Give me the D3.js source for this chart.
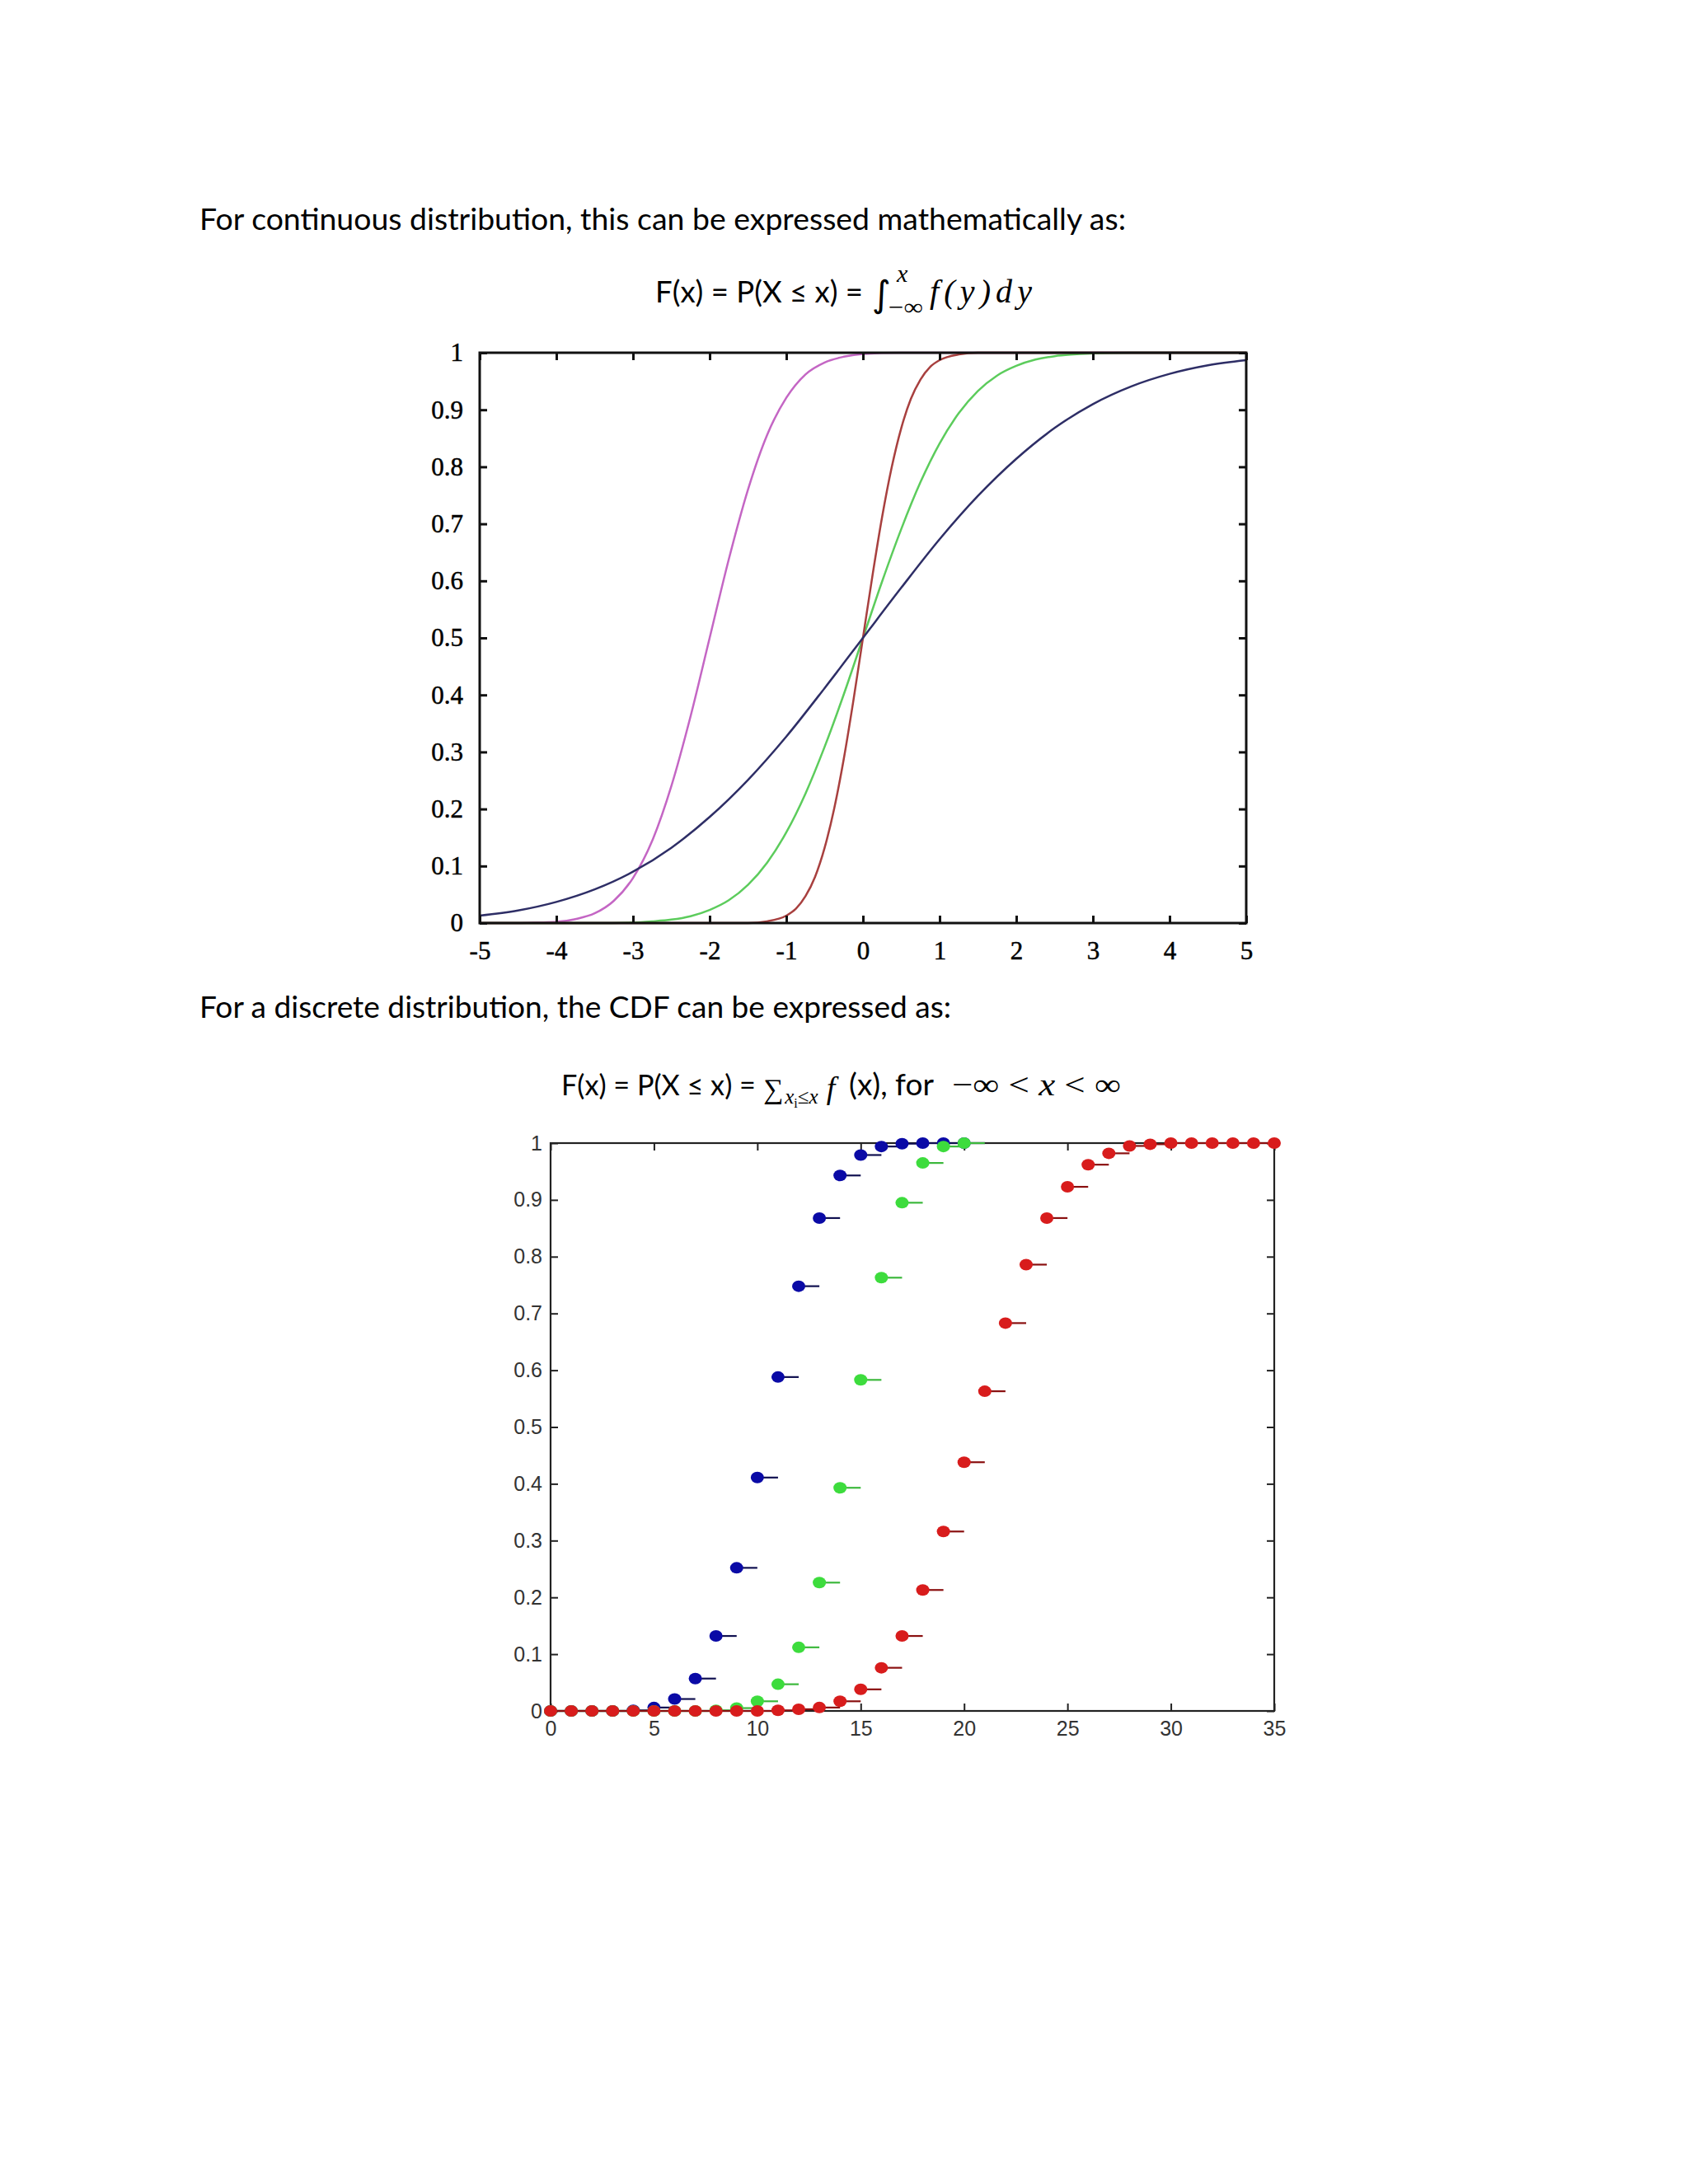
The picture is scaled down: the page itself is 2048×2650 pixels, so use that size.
<!DOCTYPE html>
<html>
<head>
<meta charset="utf-8">
<script src="https://cdn.jsdelivr.net/npm/d3@7"></script>
<style>
  html, body { margin: 0; padding: 0; background: #fff; }
  svg { display: block; }
</style>
</head>
<body>
<script>
// ---------------- DATA ----------------
// Continuous CDF chart
const contTicksX = [-5, -4, -3, -2, -1, 0, 1, 2, 3, 4, 5];
const contTicksY = [0, 0.1, 0.2, 0.3, 0.4, 0.5, 0.6, 0.7, 0.8, 0.9, 1];

const blueX = [-5, -4.5, -4, -3.5, -3, -2.5, -2, -1.5, -1, -0.5, 0, 0.5, 1, 1.5, 2, 2.5, 3, 3.5, 4, 4.5, 5];
const blueY = [0.013, 0.022, 0.037, 0.059, 0.090, 0.132, 0.186, 0.251, 0.327, 0.412, 0.500, 0.588, 0.673, 0.749, 0.814, 0.868, 0.910, 0.941, 0.963, 0.978, 0.987];

const magentaX = [-5, -4.5, -4.25, -4, -3.75, -3.5, -3.25, -3, -2.75, -2.5, -2.25, -2, -1.75, -1.5, -1.25, -1, -0.75, -0.5, -0.25, 0, 0.5, 1, 2, 3, 4, 5];
const magentaY = [0, 0.000, 0.001, 0.002, 0.007, 0.017, 0.039, 0.079, 0.144, 0.240, 0.362, 0.500, 0.638, 0.760, 0.856, 0.921, 0.962, 0.983, 0.993, 0.998, 1.000, 1, 1, 1, 1, 1];

const greenX = [-5, -4, -3.5, -3, -2.75, -2.5, -2.25, -2, -1.75, -1.5, -1.25, -1, -0.75, -0.5, -0.25, 0, 0.25, 0.5, 0.75, 1, 1.25, 1.5, 1.75, 2, 2.25, 2.5, 2.75, 3, 3.5, 4, 5];
const greenY = [0, 0.000, 0.000, 0.001, 0.003, 0.006, 0.012, 0.023, 0.040, 0.067, 0.106, 0.159, 0.227, 0.309, 0.401, 0.500, 0.599, 0.691, 0.773, 0.841, 0.894, 0.933, 0.960, 0.977, 0.988, 0.994, 0.997, 0.999, 1.000, 1, 1];

const redX = [-5, -3, -2, -1.5, -1.25, -1, -0.875, -0.75, -0.625, -0.5, -0.375, -0.25, -0.125, 0, 0.125, 0.25, 0.375, 0.5, 0.625, 0.75, 0.875, 1, 1.25, 1.5, 2, 3, 5];
const redY = [0, 0, 0, 0.000, 0.003, 0.013, 0.025, 0.047, 0.081, 0.132, 0.201, 0.288, 0.390, 0.500, 0.610, 0.712, 0.799, 0.868, 0.919, 0.953, 0.975, 0.987, 0.997, 1.000, 1, 1, 1];

// Discrete CDF chart
const discTicksX = [0, 5, 10, 15, 20, 25, 30, 35];
const discTicksY = [0, 0.1, 0.2, 0.3, 0.4, 0.5, 0.6, 0.7, 0.8, 0.9, 1];

const discBlue  = [0, 0, 0, 0, 0.001, 0.006, 0.021, 0.057, 0.132, 0.252, 0.411, 0.588, 0.748, 0.868, 0.943, 0.979, 0.994, 0.999, 1, 1, 1];
const discGreen = [0, 0, 0, 0, 0, 0, 0, 0, 0.001, 0.005, 0.017, 0.047, 0.112, 0.226, 0.393, 0.583, 0.763, 0.895, 0.965, 0.994, 1.0];
const discRed   = [0, 0, 0, 0, 0, 0, 0, 0, 0, 0, 0, 0.001, 0.003, 0.006, 0.017, 0.038, 0.076, 0.132, 0.213, 0.316, 0.438, 0.563, 0.683, 0.786, 0.868, 0.923, 0.962, 0.982, 0.995, 0.998, 1, 1, 1, 1, 1, 1];

// ---------------- DRAW ----------------
const W = 2048, H = 2650;
const svg = d3.select("body").append("svg").attr("width", W).attr("height", H)
  .attr("viewBox", `0 0 ${W} ${H}`);
svg.append("rect").attr("width", W).attr("height", H).attr("fill", "#fff");

const SANS = "Lato, 'Open Sans', 'Noto Sans', sans-serif";
const SERIF = "'Liberation Serif', 'DejaVu Serif', serif";

// shrink font so that the natural width fits the target width, then pin the width
function fit(sel, target, maxSize) {
  const node = sel.node();
  const w = node.getComputedTextLength();
  const size = Math.min(maxSize, maxSize * target / w);
  sel.attr("font-size", size);
  const w2 = node.getComputedTextLength();
  sel.attr("textLength", Math.min(target, w2)).attr("lengthAdjust", "spacingAndGlyphs");
  return sel;
}

// ---- Paragraph text & formulas ----
svg.append("text").attr("x", 242).attr("y", 279)
  .attr("font-family", SANS).attr("font-size", 37).attr("fill", "#000")
  .attr("textLength", 1124).attr("lengthAdjust", "spacingAndGlyphs")
  .text("For continuous distribution, this can be expressed mathematically as:");

// formula 1
const f1 = svg.append("g");
f1.append("text").attr("x", 795).attr("y", 367)
  .attr("font-family", SANS).attr("font-size", 37)
  .text("F(x) = P(X \u2264 x) =")
  .call(s => fit(s, 252, 37));
f1.append("text").attr("x", 1058).attr("y", 372)
  .attr("font-family", "'DejaVu Sans', sans-serif").attr("font-size", 44)
  .attr("font-style", "italic")
  .text("\u222B");
f1.append("text").attr("x", 1088).attr("y", 342)
  .attr("font-family", SERIF).attr("font-size", 30).attr("font-style", "italic")
  .text("x");
f1.append("text").attr("x", 1078).attr("y", 382)
  .attr("font-family", SERIF).attr("font-size", 28)
  .attr("textLength", 42).attr("lengthAdjust", "spacingAndGlyphs")
  .text("\u2212\u221E");
f1.append("text").attr("x", 1128).attr("y", 367)
  .attr("font-family", SERIF).attr("font-size", 40).attr("font-style", "italic")
  .attr("textLength", 124).attr("lengthAdjust", "spacing")
  .text("f(y)dy");

svg.append("text").attr("x", 242).attr("y", 1235)
  .attr("font-family", SANS).attr("font-size", 37).attr("fill", "#000")
  .attr("textLength", 912).attr("lengthAdjust", "spacingAndGlyphs")
  .text("For a discrete distribution, the CDF can be expressed as:");

// formula 2
const f2 = svg.append("g");
f2.append("text").attr("x", 681).attr("y", 1329)
  .attr("font-family", SANS).attr("font-size", 37)
  .text("F(x) = P(X \u2264 x) =")
  .call(s => fit(s, 236, 37));
// summation sign with its subscript and f in one text element
f2.append("text").attr("x", 926).attr("y", 1333)
  .attr("font-family", SERIF).attr("font-size", 34)
  .call(t => {
    t.append("tspan").text("\u2211");
    t.append("tspan").attr("font-size", 25).attr("dy", 6).attr("dx", 2).attr("font-style", "italic").text("x");
    t.append("tspan").attr("font-size", 16).attr("dy", 5).text("i");
    t.append("tspan").attr("font-size", 25).attr("dy", -5).text("\u2264");
    t.append("tspan").attr("font-size", 25).attr("font-style", "italic").text("x");
    t.append("tspan").attr("font-size", 38).attr("dy", -6).attr("dx", 10).attr("font-style", "italic").text("f");
  });
f2.append("text").attr("x", 1030).attr("y", 1329)
  .attr("font-family", SANS).attr("font-size", 37)
  .text("(x), for")
  .call(s => fit(s, 107, 37));
f2.append("text").attr("x", 1155).attr("y", 1329)
  .attr("font-family", SERIF).attr("font-size", 38)
  .attr("textLength", 205).attr("lengthAdjust", "spacingAndGlyphs")
  .call(t => {
    t.append("tspan").text("\u2212\u221E < ");
    t.append("tspan").attr("font-style", "italic").text("x");
    t.append("tspan").text(" < \u221E");
  });

// ---- Chart 1: continuous ----
(function () {
  const L = 582, R = 1512, T = 428, B = 1120;
  const x = d3.scaleLinear().domain([-5, 5]).range([L, R]);
  const y = d3.scaleLinear().domain([0, 1]).range([B, T]);
  const g = svg.append("g");
  const fmt = d => (d === 0 || d === 1) ? String(d) : d.toFixed(1);

  const curves = [
    { xs: magentaX, ys: magentaY, color: "#c466c4" },
    { xs: greenX, ys: greenY, color: "#5ccc5c" },
    { xs: redX, ys: redY, color: "#a8403f" },
    { xs: blueX, ys: blueY, color: "#2e2e66" }
  ];
  const line = d3.line().x(d => x(d[0])).y(d => y(d[1])).curve(d3.curveMonotoneX);
  curves.forEach(c => {
    g.append("path").datum(d3.zip(c.xs, c.ys))
      .attr("d", line).attr("fill", "none")
      .attr("stroke", c.color).attr("stroke-width", 2.5);
  });

  const styleAxis = (sel) => {
    sel.select(".domain").remove();
    sel.selectAll(".tick line").attr("stroke", "#111").attr("stroke-width", 3);
    sel.selectAll(".tick text").attr("font-family", SERIF).attr("font-size", 31)
      .attr("fill", "#000").attr("stroke", "#000").attr("stroke-width", 0.5);
  };
  g.append("g").attr("transform", `translate(0,${B})`)
    .call(d3.axisBottom(x).tickValues(contTicksX).tickSize(-9).tickPadding(22).tickFormat(d => String(d)))
    .call(styleAxis);
  g.append("g").attr("transform", `translate(0,${T})`)
    .call(d3.axisTop(x).tickValues(contTicksX).tickSize(-9).tickFormat(""))
    .call(styleAxis);
  g.append("g").attr("transform", `translate(${L},0)`)
    .call(d3.axisLeft(y).tickValues(contTicksY).tickSize(-9).tickPadding(20).tickFormat(fmt))
    .call(styleAxis);
  g.append("g").attr("transform", `translate(${R},0)`)
    .call(d3.axisRight(y).tickValues(contTicksY).tickSize(-9).tickFormat(""))
    .call(styleAxis);

  g.append("rect").attr("x", L).attr("y", T).attr("width", R - L).attr("height", B - T)
    .attr("fill", "none").attr("stroke", "#111").attr("stroke-width", 3);
})();

// ---- Chart 2: discrete ----
(function () {
  const L = 668, R = 1546, T = 1387, B = 2076;
  const x = d3.scaleLinear().domain([0, 35]).range([L, R]);
  const y = d3.scaleLinear().domain([0, 1]).range([B, T]);
  const g = svg.append("g");
  const fmt = d => (d === 0 || d === 1) ? String(d) : d.toFixed(1);

  svg.append("clipPath").attr("id", "clip2").append("rect")
    .attr("x", L).attr("y", T - 2).attr("width", R - L).attr("height", B - T + 4);

  const styleAxis = (sel) => {
    sel.select(".domain").remove();
    sel.selectAll(".tick line").attr("stroke", "#222").attr("stroke-width", 2);
    sel.selectAll(".tick text").attr("font-family", "'Liberation Sans', Arial, sans-serif")
      .attr("font-size", 25).attr("fill", "#333");
  };
  g.append("g").attr("transform", `translate(0,${B})`)
    .call(d3.axisBottom(x).tickValues(discTicksX).tickSize(-9).tickPadding(12).tickFormat(d => String(d)))
    .call(styleAxis);
  g.append("g").attr("transform", `translate(0,${T})`)
    .call(d3.axisTop(x).tickValues(discTicksX).tickSize(-9).tickFormat(""))
    .call(styleAxis);
  g.append("g").attr("transform", `translate(${L},0)`)
    .call(d3.axisLeft(y).tickValues(discTicksY).tickSize(-9).tickPadding(10).tickFormat(fmt))
    .call(styleAxis);
  g.append("g").attr("transform", `translate(${R},0)`)
    .call(d3.axisRight(y).tickValues(discTicksY).tickSize(-9).tickFormat(""))
    .call(styleAxis);

  g.append("rect").attr("x", L).attr("y", T).attr("width", R - L).attr("height", B - T)
    .attr("fill", "none").attr("stroke", "#222").attr("stroke-width", 2.2);

  const series = [
    { vals: discBlue, dot: "#0a0aa6", line: "#101050" },
    { vals: discGreen, dot: "#3ddc3d", line: "#3cb83c" },
    { vals: discRed, dot: "#d81c1c", line: "#8a1010" }
  ];
  series.forEach(s => {
    const data = s.vals.map((v, i) => ({ x: i, v }));
    const sg = g.append("g");
    sg.append("g").attr("clip-path", "url(#clip2)")
      .selectAll("line").data(data).join("line")
      .attr("x1", d => x(d.x)).attr("x2", d => x(d.x + 1))
      .attr("y1", d => y(d.v)).attr("y2", d => y(d.v))
      .attr("stroke", s.line).attr("stroke-width", 2.2);
    sg.selectAll("ellipse").data(data).join("ellipse")
      .attr("cx", d => x(d.x)).attr("cy", d => y(d.v)).attr("rx", 8).attr("ry", 7)
      .attr("fill", s.dot);
  });
})();
</script>
</body>
</html>
